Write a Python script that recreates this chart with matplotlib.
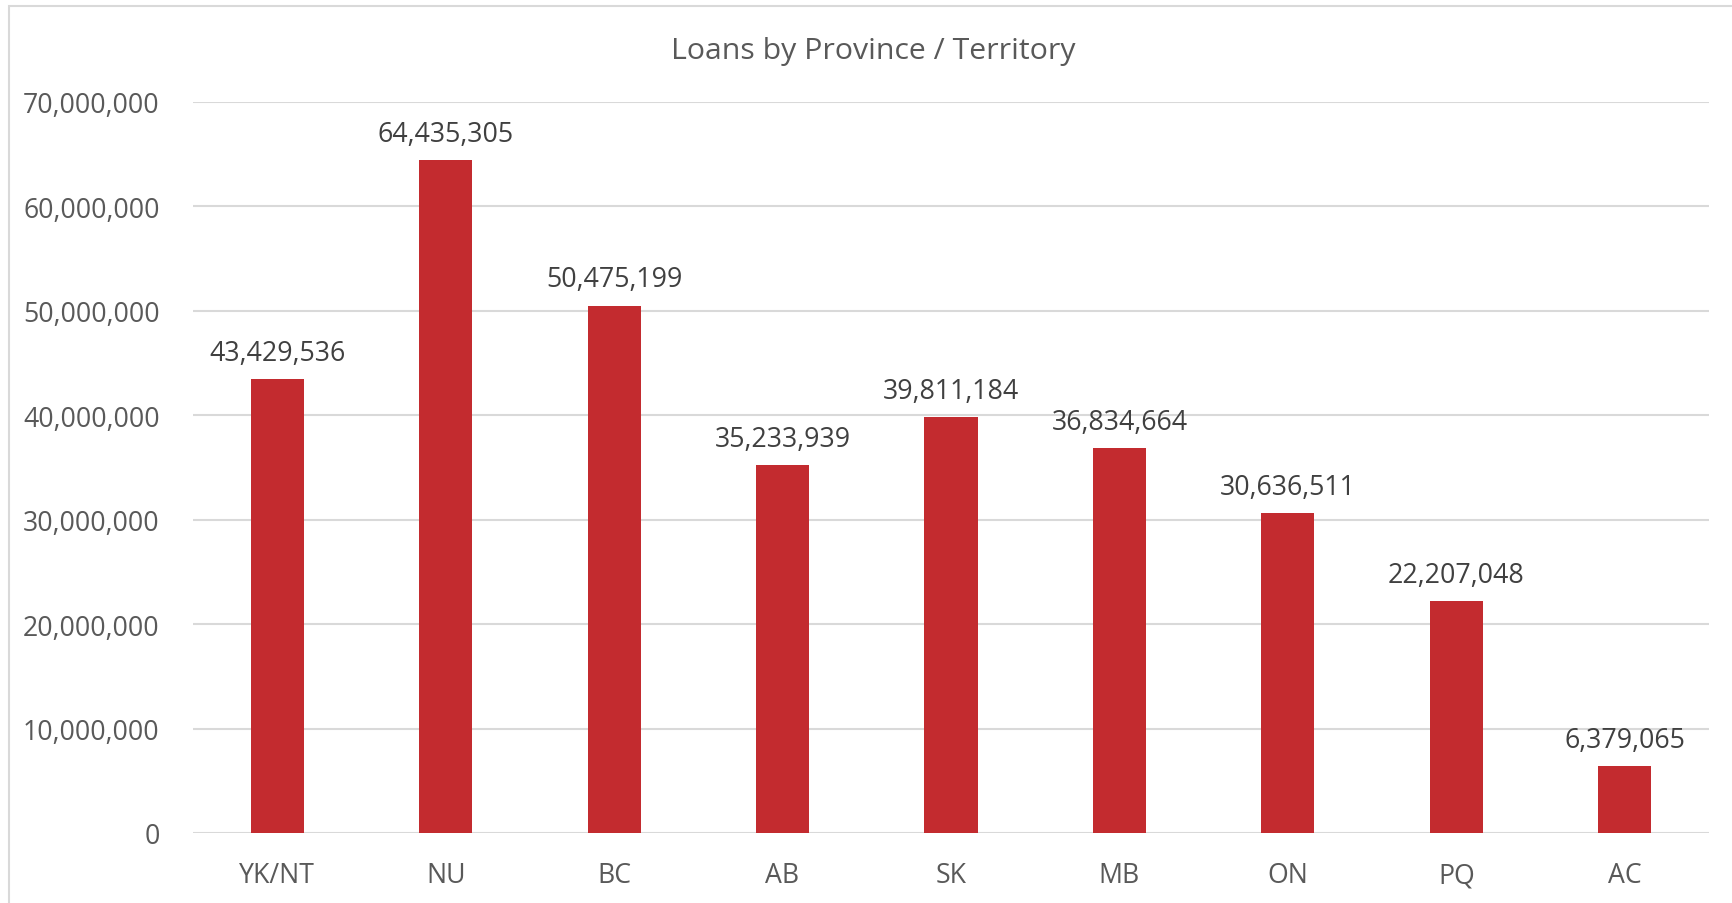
import matplotlib
matplotlib.use("Agg")
import matplotlib.pyplot as plt
from matplotlib.patches import Rectangle
from matplotlib.ticker import FuncFormatter, MultipleLocator

categories = ["YK/NT", "NU", "BC", "AB", "SK", "MB", "ON", "PQ", "AC"]
loans = [43429536, 64435305, 50475199, 35233939, 39811184, 36834664, 30636511, 22207048, 6379065]
title = "Loans by Province / Territory"

W, H = 1732, 904
dpi = 100
fig = plt.figure(figsize=(W / dpi, H / dpi), dpi=dpi)
plt.rcParams['font.family'] = ['Open Sans', 'DejaVu Sans']

# plot area in pixels
left, right, top, bottom = 193, 1709, 103, 834
ax = fig.add_axes([left / W, 1 - bottom / H, (right - left) / W, (bottom - top) / H])

x = range(len(categories))
bars = ax.bar(x, loans, width=0.315, color="#C32B2F", zorder=3)
ax.set_xlim(-0.5, len(categories) - 0.5)
ax.set_ylim(0, 70000000)
ax.yaxis.set_major_locator(MultipleLocator(10000000))
ax.yaxis.set_major_formatter(FuncFormatter(lambda v, p: f"{int(v):,}"))
ax.set_xticks(list(x))
ax.set_xticklabels(categories)
ax.grid(axis="y", color="#D9D9D9", linewidth=1.5, zorder=0)
for s in ax.spines.values():
    s.set_visible(False)
ax.tick_params(axis="both", length=0, labelsize=19.2, labelcolor="#595959")
ax.tick_params(axis="y", pad=24)
ax.tick_params(axis="x", pad=20.5)

for b, v in zip(bars, loans):
    ax.annotate(f"{v:,}", (b.get_x() + b.get_width() / 2, v), xytext=(0, 9),
                textcoords="offset points", ha="center", va="bottom",
                fontsize=19.3, color="#404040")

fig.text(873 / W, 1 - 51 / H, title, ha="center", va="center", fontsize=21.8, color="#595959")

fig.patches.append(Rectangle((9 / W, -0.1), 1.2, 1 - 6.5 / H + 0.1, transform=fig.transFigure,
                             fill=False, edgecolor="#D9D9D9", linewidth=1.5))

fig.savefig("out.png", dpi=dpi, facecolor="white")
